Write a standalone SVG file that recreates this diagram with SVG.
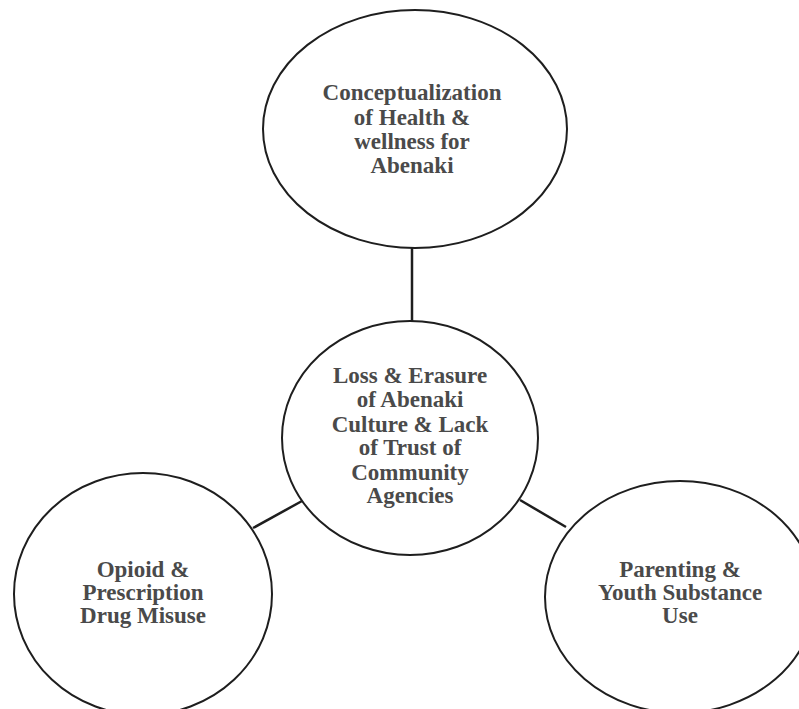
<svg xmlns="http://www.w3.org/2000/svg" width="799" height="709" viewBox="0 0 799 709">
<style>
.node{fill:#ffffff;stroke:#1e1e1e;stroke-width:2}
.lbl{font-family:"Liberation Serif","Times New Roman",serif;font-weight:bold;font-size:23px;fill:#4a4a4a;text-anchor:middle}
.conn{stroke:#1e1e1e;stroke-width:2.5;fill:none}
</style>
<rect width="799" height="709" fill="#ffffff"/>
<g id="connectors">
<line class="conn" x1="412" y1="247" x2="412" y2="321"/>
<line class="conn" x1="253" y1="528" x2="302" y2="501"/>
<line class="conn" x1="520" y1="500" x2="566" y2="527"/>
</g>
<g id="node-top">
<ellipse class="node" cx="415" cy="129" rx="152" ry="119"/>
<text class="lbl" x="412"><tspan x="412" y="100">Conceptualization</tspan><tspan x="412" y="124.5">of Health &amp;</tspan><tspan x="412" y="149">wellness for</tspan><tspan x="412" y="173">Abenaki</tspan></text>
</g>
<g id="node-center">
<ellipse class="node" cx="410" cy="438" rx="128" ry="117"/>
<text class="lbl" x="410"><tspan x="410" y="383">Loss &amp; Erasure</tspan><tspan x="410" y="407">of Abenaki</tspan><tspan x="410" y="432">Culture &amp; Lack</tspan><tspan x="410" y="455">of Trust of</tspan><tspan x="410" y="480">Community</tspan><tspan x="410" y="503">Agencies</tspan></text>
</g>
<g id="node-left">
<ellipse class="node" cx="143" cy="594" rx="129" ry="121"/>
<text class="lbl" x="143"><tspan x="143" y="577">Opioid &amp;</tspan><tspan x="143" y="600">Prescription</tspan><tspan x="143" y="623">Drug Misuse</tspan></text>
</g>
<g id="node-right">
<ellipse class="node" cx="680" cy="597" rx="135" ry="116"/>
<text class="lbl" x="680"><tspan x="680" y="577">Parenting &amp;</tspan><tspan x="680" y="600">Youth Substance</tspan><tspan x="680" y="623">Use</tspan></text>
</g>
</svg>
